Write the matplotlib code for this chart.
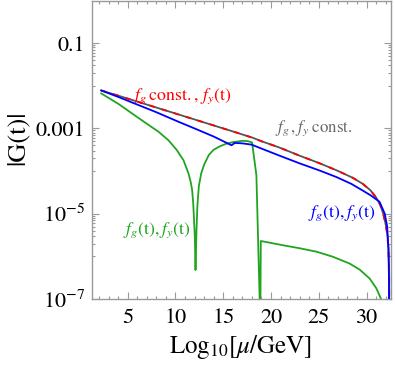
import numpy as np
import matplotlib
matplotlib.use("Agg")
import matplotlib.pyplot as plt
from matplotlib.ticker import FixedLocator, FixedFormatter

plt.rcParams['font.family'] = ['STIXGeneral', 'DejaVu Serif']
plt.rcParams['mathtext.fontset'] = 'stix'

# ---- data: x = log10(mu/GeV), y = log10|G(t)| ----
t_gray = [2.24, 4, 6, 8, 10, 12, 14, 16, 18.1, 19, 20.9, 23, 25, 26.84, 28.57, 29.6, 30.4, 31.0,
          31.4, 31.7, 31.95, 32.1, 32.2, 32.3, 32.36, 32.38]
lg_gray = [-2.11, -2.23, -2.37, -2.51, -2.65, -2.79, -2.93, -3.07, -3.22, -3.30, -3.45, -3.64, -3.81,
           -3.98, -4.16, -4.30, -4.45, -4.62, -4.78, -4.97, -5.20, -5.38, -5.55, -5.85, -6.40, -7.50]

t_red = [2.24, 4, 6, 8, 10, 12, 14, 16, 18.1, 19, 20.9, 23, 25, 26.84, 28.57, 29.6, 30.4, 31.0,
         31.4, 31.7, 31.95, 32.1, 32.2, 32.3, 32.36, 32.38]
lg_red = [-2.11, -2.23, -2.37, -2.51, -2.65, -2.79, -2.93, -3.07, -3.22, -3.30, -3.45, -3.64, -3.81,
          -3.98, -4.16, -4.30, -4.45, -4.62, -4.78, -4.97, -5.20, -5.40, -5.60, -5.90, -6.45, -7.50]

t_blue = [2.24, 4, 6, 8, 10.49, 12, 14, 15.87, 16.21, 17.0, 17.96, 19.88, 20.91, 23, 25, 26.84, 28.4,
          29.62, 30.5, 31.35, 31.9, 32.15, 32.28, 32.34, 32.36]
lg_blue = [-2.11, -2.26, -2.44, -2.62, -2.86, -3.00, -3.19, -3.395, -3.34, -3.35, -3.38, -3.55, -3.64,
           -3.82, -3.98, -4.14, -4.30, -4.46, -4.58, -4.72, -5.00, -5.30, -5.80, -6.50, -7.50]

t_green = [2.24, 4, 6.49, 8.24, 9.28, 10.15, 10.85, 11.37, 11.61, 11.75, 11.86, 12.03, 12.1,
           12.2, 12.3, 12.45, 12.7, 13.0, 13.5, 14.0, 14.64, 15.3, 16.03, 17.08, 17.6, 18.02,
           18.47, 18.81, 18.87, 18.93, 21.26, 23.0, 24.75, 26.48, 28.23, 29.27, 30.32, 31.02,
           31.36, 31.6, 31.8]
lg_green = [-2.18, -2.42, -2.81, -3.08, -3.28, -3.51, -3.75, -4.06, -4.27, -4.45, -4.76, -5.54, -6.32,
            -5.40, -4.80, -4.35, -4.05, -3.85, -3.62, -3.50, -3.42, -3.36, -3.32, -3.29, -3.30, -3.33,
            -4.10, -7.00, -8.00, -5.64, -5.74, -5.81, -5.89, -6.01, -6.17, -6.31, -6.52, -6.75,
            -6.92, -7.05, -7.40]

xticks = [5, 10, 15, 20, 25, 30]
yticks = [1e-1, 1e-3, 1e-5, 1e-7]
ytick_labels = ['0.1', '0.001', r'$10^{-5}$', r'$10^{-7}$']

fig = plt.figure(figsize=(3.95, 3.67), dpi=100)
ax = fig.add_axes([92/395, 1-299/367, 298.5/395, 298.5/367])

green = '#1fa51f'
ax.plot(t_green, 10**np.array(lg_green), color=green, lw=1.3, zorder=1)
ax.plot(t_gray, 10**np.array(lg_gray), color='#555555', lw=1.3, zorder=2)
ax.plot(t_red, 10**np.array(lg_red), color='red', lw=1.3, dashes=(3, 4), zorder=3)
ax.plot(t_blue, 10**np.array(lg_blue), color='blue', lw=1.3, zorder=4)

ax.set_yscale('log')
ax.set_xlim(1.27, 32.5)
ax.set_ylim(1e-7, 1)

ax.xaxis.set_major_locator(FixedLocator(xticks))
ax.xaxis.set_minor_locator(FixedLocator(np.arange(2, 33, 1)))
ax.yaxis.set_major_locator(FixedLocator(yticks))
ax.yaxis.set_major_formatter(FixedFormatter(ytick_labels))
minor_y = [k*10.0**e for e in (-2, -4, -6) for k in range(1, 10)]
ax.yaxis.set_minor_locator(FixedLocator(minor_y))
ax.yaxis.set_minor_formatter(FixedFormatter([''] * len(minor_y)))

fc = '#9a9a9a'
for s in ax.spines.values():
    s.set_color(fc)
    s.set_linewidth(1.0)
ax.tick_params(which='both', direction='in', top=True, right=True, color=fc, width=0.8,
               labelsize=16, labelcolor='black')
ax.tick_params(which='major', length=5)
ax.tick_params(which='minor', length=2.5)
ax.tick_params(axis='x', pad=7)
ax.tick_params(axis='y', pad=5)

fs = 12.8
ax.text(5.42, 10**-2.24, r'$f_g\,\mathrm{const.},\,f_y(\mathrm{t})$', color='red', fontsize=fs, va='center', ha='left')
ax.text(20.39, 10**-3.0, r'$f_g\,,f_y\;\mathrm{const.}$', color='#666666', fontsize=fs - 0.6, va='center', ha='left')
ax.text(4.54, 10**-5.39, r'$f_g(\mathrm{t}),f_y(\mathrm{t})$', color=green, fontsize=fs, va='center', ha='left')
ax.text(23.87, 10**-4.99, r'$f_g(\mathrm{t}),f_y(\mathrm{t})$', color='blue', fontsize=fs, va='center', ha='left')

fig.text(241/395, 1-347/367, r'Log$_{10}$[$\mu$/GeV]', fontsize=18, ha='center', va='center')
fig.text(18/395, 1-138/367, '|G(t)|', fontsize=19, rotation=90, ha='center', va='center')

fig.savefig('out.png', dpi=100)
